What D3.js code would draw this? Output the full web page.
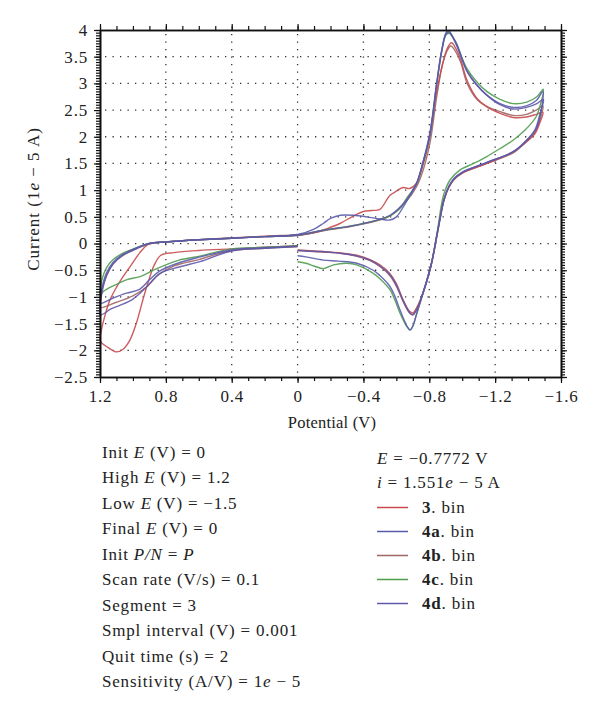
<!DOCTYPE html>
<html><head><meta charset="utf-8">
<script src="https://cdn.jsdelivr.net/npm/d3@7"></script>
<style>body{margin:0;background:#fff}svg{display:block}text{font-family:"Liberation Serif","DejaVu Serif",serif;fill:#222}</style>
</head><body><svg id="c" width="600" height="726"></svg>
<script>
// ---- data ----
const xTicks = [1.2, 0.8, 0.4, 0, -0.4, -0.8, -1.2, -1.6];
const yTicks = [-2.5, -2, -1.5, -1, -0.5, 0, 0.5, 1, 1.5, 2, 2.5, 3, 3.5, 4];
const seriesNames = ["3", "4a", "4b", "4c", "4d"];
const seriesColors = ["#c84a4c", "#5a5aac", "#a06666", "#4f9c4f", "#5e58aa"];

const s3 = [[0,-0.04],[0.2,-0.07],[0.4,-0.1],[0.6,-0.13],[0.75,-0.17],[0.83,-0.22],[0.87,-0.4],[0.91,-0.75],[0.94,-1.06],[0.98,-1.5],[1.02,-1.82],[1.06,-1.98],[1.1,-2.03],[1.15,-1.95],[1.19,-1.86],[1.2,-1.8],
[1.19,-1.6],[1.17,-1.35],[1.14,-1.06],[1.1,-0.82],[1.06,-0.62],[1.01,-0.4],[0.96,-0.18],[0.91,-0.02],[0.85,0.02],[0.7,0.05],[0.5,0.09],[0.3,0.12],[0.1,0.15],[0,0.16],[-0.1,0.2],[-0.18,0.28],[-0.26,0.38],[-0.33,0.5],[-0.4,0.6],[-0.45,0.62],[-0.5,0.64],[-0.56,0.9],[-0.6,0.98],[-0.64,1.05],[-0.68,1.03],[-0.72,1.12],[-0.76,1.45],[-0.8,1.95],[-0.84,2.75],[-0.88,3.35],[-0.91,3.66],[-0.935,3.76],[-0.96,3.66],[-0.99,3.45],[-1.03,3.05],[-1.09,2.72],[-1.15,2.56],[-1.23,2.44],[-1.31,2.36],[-1.39,2.37],[-1.45,2.42],[-1.49,2.46],
[-1.47,2.25],[-1.44,2.05],[-1.38,1.88],[-1.31,1.72],[-1.15,1.5],[-1.0,1.32],[-0.95,1.2],[-0.92,1.06],[-0.89,0.82],[-0.85,0.22],[-0.81,-0.4],[-0.75,-1.02],[-0.72,-1.22],[-0.7,-1.3],[-0.68,-1.27],[-0.64,-1.05],[-0.6,-0.75],[-0.56,-0.56],[-0.5,-0.4],[-0.44,-0.3],[-0.36,-0.22],[-0.25,-0.17],[-0.15,-0.15],[-0.05,-0.13],[0,-0.12]];

const s4a = [[0,-0.05],[0.2,-0.08],[0.4,-0.12],[0.59,-0.25],[0.72,-0.36],[0.84,-0.52],[0.9,-0.68],[0.96,-0.86],[1.04,-0.93],[1.12,-1.02],[1.2,-1.12],
[1.2,-1.05],[1.19,-0.85],[1.16,-0.55],[1.12,-0.35],[1.06,-0.2],[0.98,-0.08],[0.9,0.0],[0.8,0.03],[0.6,0.07],[0.4,0.1],[0.2,0.13],[0,0.17],[-0.1,0.27],[-0.157,0.38],[-0.2,0.47],[-0.26,0.53],[-0.34,0.53],[-0.42,0.5],[-0.5,0.46],[-0.56,0.44],[-0.6,0.5],[-0.643,0.69],[-0.69,0.95],[-0.725,1.15],[-0.76,1.5],[-0.805,2.1],[-0.845,3.0],[-0.876,3.62],[-0.9,3.92],[-0.92,3.96],[-0.945,3.85],[-0.97,3.68],[-1.03,3.22],[-1.09,2.96],[-1.15,2.78],[-1.23,2.62],[-1.31,2.55],[-1.39,2.58],[-1.45,2.68],[-1.49,2.85],
[-1.48,2.5],[-1.45,2.15],[-1.38,1.9],[-1.31,1.72],[-1.15,1.52],[-1.0,1.34],[-0.95,1.22],[-0.92,1.08],[-0.89,0.84],[-0.85,0.22],[-0.81,-0.42],[-0.75,-1.05],[-0.72,-1.35],[-0.7,-1.55],[-0.683,-1.62],[-0.665,-1.55],[-0.623,-1.25],[-0.59,-0.98],[-0.56,-0.8],[-0.5,-0.6],[-0.46,-0.5],[-0.36,-0.37],[-0.25,-0.33],[-0.157,-0.31],[-0.05,-0.25],[0,-0.23]];

const s4b = [[0,-0.06],[0.2,-0.09],[0.4,-0.13],[0.6,-0.3],[0.75,-0.42],[0.85,-0.6],[0.92,-0.82],[1.0,-0.98],[1.1,-1.1],[1.2,-1.2],
[1.2,-1.12],[1.19,-0.9],[1.16,-0.6],[1.12,-0.38],[1.06,-0.22],[0.98,-0.1],[0.9,0.0],[0.8,0.03],[0.6,0.07],[0.4,0.1],[0.2,0.13],[0,0.15],[-0.157,0.24],[-0.36,0.34],[-0.562,0.52],[-0.663,0.8],[-0.72,1.05],[-0.76,1.35],[-0.805,1.9],[-0.845,2.75],[-0.88,3.35],[-0.91,3.62],[-0.93,3.7],[-0.955,3.62],[-0.99,3.4],[-1.03,3.0],[-1.09,2.7],[-1.15,2.57],[-1.23,2.47],[-1.31,2.4],[-1.39,2.42],[-1.45,2.5],[-1.49,2.58],
[-1.47,2.3],[-1.44,2.08],[-1.38,1.88],[-1.31,1.7],[-1.15,1.5],[-1.0,1.32],[-0.95,1.2],[-0.92,1.06],[-0.89,0.82],[-0.85,0.2],[-0.81,-0.42],[-0.75,-1.03],[-0.72,-1.25],[-0.7,-1.34],[-0.68,-1.3],[-0.64,-1.08],[-0.6,-0.8],[-0.56,-0.6],[-0.5,-0.43],[-0.44,-0.32],[-0.36,-0.24],[-0.25,-0.18],[-0.15,-0.16],[-0.05,-0.14],[0,-0.13]];

const s4c = [[0,-0.04],[0.2,-0.07],[0.4,-0.1],[0.52,-0.18],[0.6,-0.24],[0.72,-0.31],[0.8,-0.4],[0.876,-0.5],[0.957,-0.62],[1.04,-0.68],[1.11,-0.78],[1.18,-0.9],[1.2,-0.98],
[1.2,-0.9],[1.19,-0.7],[1.16,-0.45],[1.12,-0.3],[1.06,-0.18],[0.98,-0.08],[0.9,0.0],[0.8,0.03],[0.6,0.07],[0.4,0.1],[0.2,0.13],[0,0.16],[-0.157,0.25],[-0.36,0.35],[-0.5,0.45],[-0.562,0.52],[-0.62,0.65],[-0.663,0.85],[-0.72,1.1],[-0.76,1.48],[-0.805,2.06],[-0.845,2.98],[-0.876,3.6],[-0.9,3.9],[-0.92,3.94],[-0.945,3.85],[-0.967,3.72],[-1.028,3.28],[-1.088,3.03],[-1.149,2.85],[-1.23,2.7],[-1.311,2.62],[-1.392,2.65],[-1.453,2.75],[-1.493,2.89],
[-1.47,2.55],[-1.45,2.38],[-1.38,2.12],[-1.311,1.94],[-1.23,1.78],[-1.149,1.63],[-1.07,1.5],[-0.987,1.38],[-0.926,1.19],[-0.886,0.9],[-0.85,0.25],[-0.81,-0.42],[-0.75,-1.05],[-0.72,-1.35],[-0.7,-1.55],[-0.683,-1.62],[-0.665,-1.56],[-0.623,-1.31],[-0.59,-1.05],[-0.562,-0.87],[-0.5,-0.66],[-0.46,-0.56],[-0.36,-0.4],[-0.3,-0.37],[-0.218,-0.4],[-0.157,-0.47],[-0.1,-0.42],[-0.05,-0.37],[0,-0.34]];

const s4d = [[0,-0.05],[0.2,-0.09],[0.4,-0.14],[0.593,-0.34],[0.72,-0.44],[0.835,-0.56],[0.916,-0.81],[1.0,-1.04],[1.08,-1.16],[1.13,-1.22],[1.2,-1.34],
[1.2,-1.2],[1.19,-0.95],[1.16,-0.6],[1.12,-0.38],[1.06,-0.22],[0.98,-0.1],[0.9,0.0],[0.8,0.03],[0.6,0.07],[0.4,0.1],[0.2,0.13],[0,0.16],[-0.157,0.25],[-0.36,0.35],[-0.562,0.53],[-0.663,0.82],[-0.72,1.1],[-0.76,1.5],[-0.805,2.06],[-0.845,3.0],[-0.876,3.63],[-0.906,3.97],[-0.92,3.98],[-0.945,3.86],[-0.967,3.74],[-1.028,3.24],[-1.088,2.98],[-1.149,2.78],[-1.23,2.6],[-1.311,2.52],[-1.392,2.55],[-1.453,2.62],[-1.493,2.7],
[-1.47,2.4],[-1.44,2.12],[-1.38,1.9],[-1.31,1.72],[-1.15,1.52],[-1.0,1.33],[-0.95,1.21],[-0.92,1.07],[-0.89,0.83],[-0.85,0.21],[-0.81,-0.42],[-0.75,-1.04],[-0.72,-1.26],[-0.7,-1.33],[-0.68,-1.29],[-0.64,-1.06],[-0.6,-0.78],[-0.56,-0.58],[-0.5,-0.42],[-0.44,-0.31],[-0.36,-0.23],[-0.25,-0.18],[-0.15,-0.15],[-0.05,-0.14],[0,-0.13]];

const seriesData = [s3, s4a, s4b, s4c, s4d];

const paramLines = [
  [["Init ",0],["E",1],[" (V) = 0",0]],
  [["High ",0],["E",1],[" (V) = 1.2",0]],
  [["Low ",0],["E",1],[" (V) = \u22121.5",0]],
  [["Final ",0],["E",1],[" (V) = 0",0]],
  [["Init ",0],["P/N",1],[" = ",0],["P",1]],
  [["Scan rate (V/s) = 0.1",0]],
  [["Segment = 3",0]],
  [["Smpl interval (V) = 0.001",0]],
  [["Quit time (s) = 2",0]],
  [["Sensitivity (A/V) = 1",0],["e",1],[" \u2212 5",0]]
];

// ---- layout ----
const svg = d3.select("#c");
const L = 100, R = 561, T = 30, B = 377;
const FS = 17, LS = 0.8;
const x = d3.scaleLinear().domain([1.2, -1.6]).range([L, R]);
const y = d3.scaleLinear().domain([-2.5, 4]).range([B, T]);

// grid
const g = svg.append("g");
g.selectAll(".vg").data(xTicks.slice(1, -1)).join("line")
  .attr("x1", d => x(d)).attr("x2", d => x(d)).attr("y1", T + 4).attr("y2", B)
  .attr("stroke", "#333").attr("stroke-width", 1.3).attr("stroke-dasharray", "1.3,6.2");
g.selectAll(".hg").data(yTicks.slice(1, -1)).join("line")
  .attr("x1", L + 5).attr("x2", R).attr("y1", d => y(d)).attr("y2", d => y(d))
  .attr("stroke", "#333").attr("stroke-width", 1.3).attr("stroke-dasharray", "1.3,6.2");

// curves
const line = d3.line().x(d => x(d[0])).y(d => y(d[1])).curve(d3.curveCatmullRom.alpha(0.5));
const order = [2, 0, 3, 1, 4];
order.forEach(k => {
  svg.append("path").attr("d", line(seriesData[k])).attr("fill", "none")
    .attr("stroke", seriesColors[k]).attr("stroke-width", 1.4).attr("stroke-opacity", 0.9)
    .attr("stroke-linejoin", "round");
});

// axes
const yMinor = d3.range(0, 131).map(k => -2.5 + k * 0.05);
const xMinor = d3.range(0, 29).map(k => 1.2 - k * 0.1);
function styleAxis(sel) {
  sel.selectAll("path").attr("stroke", "#111").attr("stroke-width", 1.6);
  sel.selectAll("line").attr("stroke", "#111").attr("stroke-width", 1.2);
  sel.selectAll("text").attr("font-family", "Liberation Serif").attr("font-size", FS)
    .attr("letter-spacing", LS).attr("fill", "#222");
}
const fmtY = d => d3.format("~g")(d);
const fmtX = d => d === 0 ? "0" : d3.format(".1f")(d);

svg.append("g").attr("transform", `translate(${L},0)`)
  .call(d3.axisLeft(y).tickValues(yMinor).tickSize(4).tickFormat("").tickSizeOuter(0)).call(styleAxis);
svg.append("g").attr("transform", `translate(${L},0)`)
  .call(d3.axisLeft(y).tickValues(yTicks).tickSize(6).tickPadding(6).tickFormat(fmtY).tickSizeOuter(0)).call(styleAxis);
svg.append("g").attr("transform", `translate(${R},0)`)
  .call(d3.axisRight(y).tickValues(yMinor).tickSize(4).tickFormat("").tickSizeOuter(0)).call(styleAxis);
svg.append("g").attr("transform", `translate(${R},0)`)
  .call(d3.axisRight(y).tickValues(yTicks).tickSize(6).tickFormat("").tickSizeOuter(0)).call(styleAxis);
svg.append("g").attr("transform", `translate(0,${B})`)
  .call(d3.axisBottom(x).tickValues(xMinor).tickSize(4).tickFormat("").tickSizeOuter(0)).call(styleAxis);
svg.append("g").attr("transform", `translate(0,${B})`)
  .call(d3.axisBottom(x).tickValues(xTicks).tickSize(6).tickPadding(7).tickFormat(fmtX).tickSizeOuter(0)).call(styleAxis);
svg.append("g").attr("transform", `translate(0,${T})`)
  .call(d3.axisTop(x).tickValues(xMinor).tickSize(4).tickFormat("").tickSizeOuter(0)).call(styleAxis);
svg.append("g").attr("transform", `translate(0,${T})`)
  .call(d3.axisTop(x).tickValues(xTicks).tickSize(6).tickFormat("").tickSizeOuter(0)).call(styleAxis);

// axis titles
const yl = svg.append("text").attr("transform", "translate(39,199) rotate(-90)")
  .attr("text-anchor", "middle").attr("font-size", FS).attr("letter-spacing", 1);
yl.append("tspan").text("Current (1");
yl.append("tspan").attr("font-style", "italic").text("e");
yl.append("tspan").text(" \u2212 5 A)");
svg.append("text").attr("x", 332).attr("y", 428).attr("text-anchor", "middle")
  .attr("font-size", 16.5).attr("letter-spacing", 0.2).text("Potential (V)");

// parameter block
paramLines.forEach((parts, i) => {
  const t = svg.append("text").attr("x", 102).attr("y", 458 + i * 25.45)
    .attr("font-size", FS).attr("letter-spacing", LS);
  parts.forEach(p => t.append("tspan").attr("font-style", p[1] ? "italic" : null).text(p[0]));
});

// cursor readout
const e1 = svg.append("text").attr("x", 377).attr("y", 464).attr("font-size", FS).attr("letter-spacing", LS);
e1.append("tspan").attr("font-style", "italic").text("E");
e1.append("tspan").text(" = \u22120.7772 V");
const e2 = svg.append("text").attr("x", 377).attr("y", 488).attr("font-size", FS).attr("letter-spacing", LS);
e2.append("tspan").attr("font-style", "italic").text("i");
e2.append("tspan").text(" = 1.551");
e2.append("tspan").attr("font-style", "italic").text("e");
e2.append("tspan").text(" \u2212 5 A");

// legend
seriesNames.forEach((n, i) => {
  const yy = 507.5 + i * 24;
  svg.append("line").attr("x1", 377).attr("x2", 408).attr("y1", yy).attr("y2", yy)
    .attr("stroke", seriesColors[i]).attr("stroke-width", 1.5);
  const t = svg.append("text").attr("x", 422).attr("y", yy + 5.5).attr("font-size", FS).attr("letter-spacing", LS);
  t.append("tspan").attr("font-weight", "bold").text(n);
  t.append("tspan").text(". bin");
});
</script></body></html>
